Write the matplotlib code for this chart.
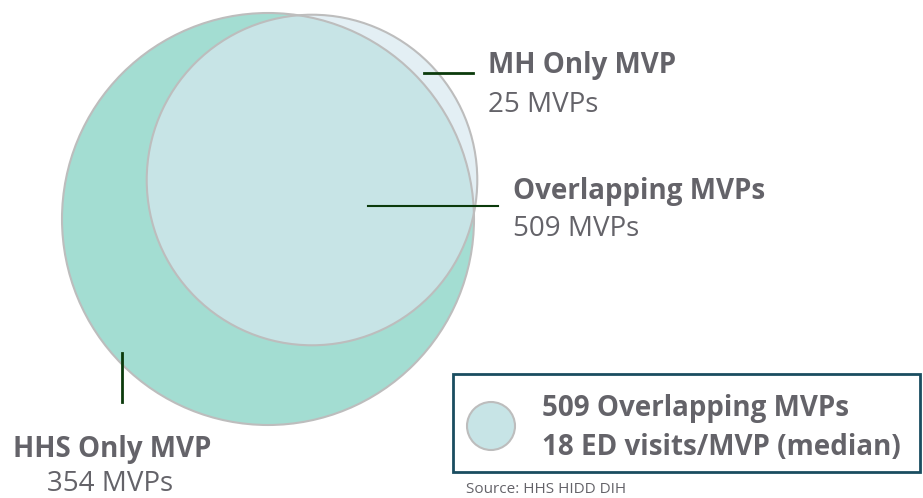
import numpy as np
import matplotlib
matplotlib.use("Agg")
import matplotlib.pyplot as plt
from matplotlib.patches import Circle, Rectangle

plt.rcParams['font.family'] = ['Open Sans', 'DejaVu Sans']

# data
hhs_only = 354
mh_only = 25
overlap = 509
median_ed_visits = 18
source_text = "Source: HHS HIDD DIH"

hhs_total = hhs_only + overlap
mh_total = mh_only + overlap

# circle sizes proportional to sqrt of counts
k = 206 / np.sqrt(hhs_total)
r_hhs = k * np.sqrt(hhs_total)
r_mh = k * np.sqrt(mh_total) * 1.02

txt = '#646369'
line_col = '#0b3a0b'
edge = '#bdbdbd'

fig = plt.figure(figsize=(9.23, 4.98), dpi=100)
ax = fig.add_axes([0, 0, 1, 1])
ax.set_xlim(0, 923)
ax.set_ylim(498, 0)
ax.axis('off')

# circles
hhs = Circle((268, 219), r_hhs, facecolor='#a3ddd2', edgecolor='none', zorder=1)
ax.add_patch(hhs)
mh = Circle((312, 180), r_mh, facecolor='#e3eff4', edgecolor='none', zorder=2)
ax.add_patch(mh)
ov = Circle((312, 180), r_mh, facecolor='#c7e4e6', edgecolor='none', zorder=3)
ax.add_patch(ov)
ov.set_clip_path(hhs)
ax.add_patch(Circle((268, 219), r_hhs, facecolor='none', edgecolor=edge, lw=1.5, zorder=4))
ax.add_patch(Circle((312, 180), r_mh, facecolor='none', edgecolor=edge, lw=1.5, zorder=4))

# leader lines
ax.plot([424, 473], [73, 73], color=line_col, lw=2, zorder=5)
ax.plot([368, 498], [206, 206], color=line_col, lw=1.5, zorder=5)
ax.plot([122, 122], [353, 402], color=line_col, lw=2, zorder=5)

fs = 20
ax.text(488, 73, "MH Only MVP", fontsize=fs, fontweight='bold', color=txt, va='baseline')
ax.text(488, 112, f"{mh_only} MVPs", fontsize=fs, color=txt, va='baseline')
ax.text(513, 199, "Overlapping MVPs", fontsize=fs, fontweight='bold', color=txt, va='baseline')
ax.text(513, 236, f"{overlap} MVPs", fontsize=fs, color=txt, va='baseline')
ax.text(13, 457, "HHS Only MVP", fontsize=fs, fontweight='bold', color=txt, va='baseline')
ax.text(47, 491, f"{hhs_only} MVPs", fontsize=fs, color=txt, va='baseline')

# legend box
ax.add_patch(Rectangle((453, 374), 467, 98, facecolor='white', edgecolor='#1a4d60', lw=2, zorder=5))
ax.add_patch(Circle((491, 426), 24, facecolor='#c7e4e6', edgecolor=edge, lw=1.5, zorder=6))
ax.text(542, 416, f"{overlap} Overlapping MVPs", fontsize=fs, fontweight='bold', color=txt, va='baseline', zorder=6)
ax.text(542, 455, f"{median_ed_visits} ED visits/MVP (median)", fontsize=fs, fontweight='bold', color=txt, va='baseline', zorder=6)

ax.text(466, 493, source_text, fontsize=11, color=txt, va='baseline')

fig.savefig("out.png", dpi=100)
